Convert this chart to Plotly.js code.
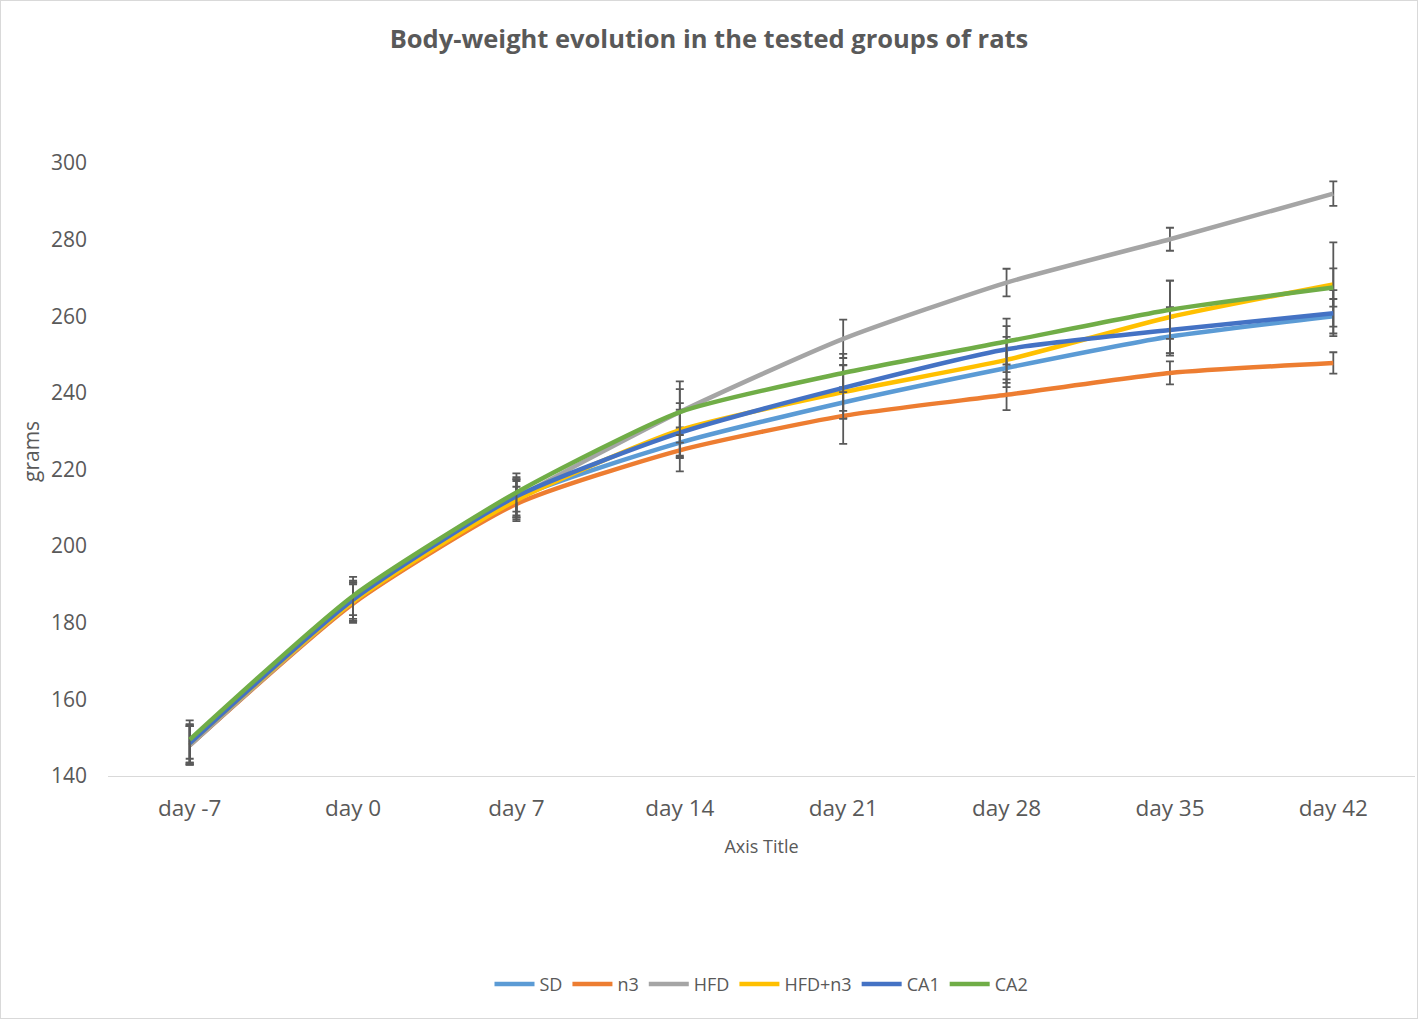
<!DOCTYPE html>
<html>
<head>
<meta charset="utf-8">
<script src="https://cdn.plot.ly/plotly-3.0.1.min.js"></script>
<style>
html,body{margin:0;padding:0;background:#fff;}
#chart{width:1416px;height:1017px;border:1px solid #d9d9d9;}
</style>
</head>
<body>
<div id="chart"></div>
<script>
const days = ['day -7','day 0','day 7','day 14','day 21','day 28','day 35','day 42'];
const seriesNames = ['SD','n3','HFD','HFD+n3','CA1','CA2'];
const SD     = [148.0, 185.5, 212.5, 227.0, 237.5, 246.5, 254.7, 260.0];
const n3     = [148.0, 185.0, 211.0, 225.0, 234.0, 239.5, 245.2, 247.8];
const HFD    = [148.0, 185.5, 212.5, 235.0, 254.1, 268.8, 280.1, 292.0];
const HFDn3  = [148.5, 185.5, 212.0, 230.3, 240.2, 248.6, 259.8, 268.3];
const CA1    = [148.5, 186.0, 213.0, 229.6, 241.3, 251.4, 256.4, 260.8];
const CA2    = [149.5, 187.0, 214.0, 235.0, 245.2, 253.4, 261.7, 267.5];
const errSD    = [5, 5, 5, 4, 4, 5, 5, 4.5];
const errN3    = [5, 5, 4.5, 5.5, 7.3, 4, 3, 2.8];
const errHFD   = [5, 5, 5, 8, 5, 3.6, 3, 3.2];
const errHFDn3 = [5, 5, 5, 7, 7, 6, 9.5, 11];
const errCA1   = [5, 5, 5, 6, 6, 6, 6, 6];
const errCA2   = [5, 5, 5, 6, 5, 6, 7.6, 5];
const colors = ['#5B9BD5','#ED7D31','#A5A5A5','#FFC000','#4472C4','#70AD47'];

const values = [SD, n3, HFD, HFDn3, CA1, CA2];
const errs = [errSD, errN3, errHFD, errHFDn3, errCA1, errCA2];

const traces = seriesNames.map((name, i) => ({
  type: 'scatter',
  mode: 'lines',
  name: name,
  x: days,
  y: values[i],
  line: {color: colors[i], width: 4.5, shape: 'spline', smoothing: 0.6},
  error_y: {type: 'data', array: errs[i], visible: true, color: '#595959', thickness: 1.8, width: 4}
}));

const font = '"Open Sans", sans-serif';
const layout = {
  width: 1416, height: 1017,
  margin: {l: 107, r: 2, t: 162, b: 242},
  paper_bgcolor: '#ffffff',
  plot_bgcolor: '#ffffff',
  font: {family: font, color: '#595959'},
  title: {text: '<b>Body-weight evolution in the tested groups of rats</b>', x: 0.5, xanchor: 'center', y: 0.963, yanchor: 'middle', font: {size: 25.5, color: '#595959', family: font}},
  xaxis: {
    type: 'category',
    range: [-0.5, 7.5],
    autorange: false,
    showgrid: false,
    showline: true, linecolor: '#d9d9d9', linewidth: 1.3,
    ticks: '',
    tickfont: {size: 22.5, color: '#595959'},
    ticklabelstandoff: 12,
    zeroline: false,
    title: {text: 'Axis Title', font: {size: 18, color: '#595959'}, standoff: 18}
  },
  yaxis: {
    range: [140, 300],
    autorange: false,
    dtick: 20,
    showgrid: false,
    showline: false,
    zeroline: false,
    ticks: '',
    tickfont: {size: 21, color: '#595959'},
    ticklabelstandoff: 20
  },
  annotations: [{
    text: 'grams', xref: 'paper', yref: 'paper',
    x: (30 - 107) / 1307, y: (776 - 452) / 613,
    xanchor: 'center', yanchor: 'middle', textangle: -90, showarrow: false,
    font: {size: 21, color: '#595959', family: font}
  }],
  legend: {
    orientation: 'h', x: 0.5, xanchor: 'center', y: -0.34, yanchor: 'middle',
    font: {size: 18, color: '#595959'}, itemwidth: 40, traceorder: 'normal'
  },
  showlegend: true
};

Plotly.newPlot('chart', traces, layout, {displayModeBar: false, staticPlot: true});
</script>
</body>
</html>
